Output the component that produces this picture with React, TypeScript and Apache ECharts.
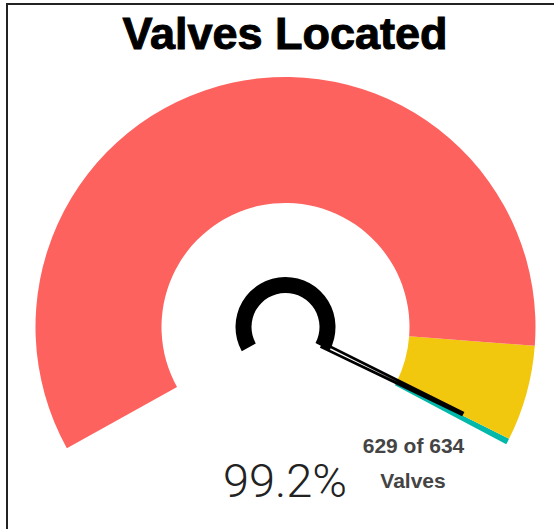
import React, { useEffect, useRef } from "react";
import * as echarts from "echarts";

const titleText = "Valves Located";
const locatedCount = 629;
const totalCount = 634;
const unitLabel = "Valves";
const bandStops = [0.9, 0.994, 1];
const bandColors = ["#FD625E", "#F2C80F", "#01B8AA"];

export default function App() {
  const ref = useRef<HTMLDivElement>(null);
  useEffect(() => {
    document.body.style.margin = "0";
    if (!ref.current) return;
    const chart = echarts.init(ref.current, null, { renderer: "svg" });
    const pct = (locatedCount / totalCount) * 100;
    const cx = 285.5;
    const cy = 327;
    const startAngle = 209;
    const endAngle = -28;
    chart.setOption({
      animation: false,
      backgroundColor: "#fff",
      series: [
        {
          type: "gauge",
          center: [cx, cy],
          radius: 250,
          startAngle,
          endAngle,
          min: 0,
          max: 100,
          axisLine: {
            lineStyle: {
              width: 126,
              color: bandStops.map((s, i) => [s, bandColors[i]]),
            },
          },
          splitLine: { show: false },
          axisTick: { show: false },
          axisLabel: { show: false },
          pointer: {
            show: true,
            icon: "path://M1,0 L6,0 L7,100 L0,100 Z M2.6,97 L4.4,97 L3.5,45 Z",
            length: 158,
            width: 7,
            offsetCenter: [0, -40],
            itemStyle: { color: "#000" },
          },
          anchor: { show: false },
          title: { show: false },
          detail: { show: false },
          data: [{ value: pct }],
          z: 2,
        },
        {
          type: "gauge",
          center: [cx, cy],
          radius: 50,
          startAngle,
          endAngle,
          min: 0,
          max: 100,
          axisLine: { lineStyle: { width: 16, color: [[1, "#000"]] } },
          splitLine: { show: false },
          axisTick: { show: false },
          axisLabel: { show: false },
          pointer: { show: false },
          anchor: { show: false },
          title: { show: false },
          detail: { show: false },
          data: [{ value: 0 }],
          z: 1,
        },
      ],
      graphic: [
        { type: "rect", shape: { x: 6, y: 3, width: 548, height: 2 }, style: { fill: "#222" } },
        { type: "rect", shape: { x: 6, y: 3, width: 2, height: 526 }, style: { fill: "#222" } },
        {
          type: "text",
          x: 285,
          y: 33,
          style: {
            text: titleText,
            font: "bold 45px 'Liberation Sans', Arial, sans-serif",
            fill: "#000",
            stroke: "#000",
            lineWidth: 1,
            align: "center",
            verticalAlign: "middle",
          },
        },
        {
          type: "text",
          x: 285,
          y: 480,
          style: {
            text: pct.toFixed(1) + "%",
            font: "300 47px Roboto, sans-serif",
            fill: "#222",
            align: "center",
            verticalAlign: "middle",
          },
        },
        {
          type: "text",
          x: 413.5,
          y: 445,
          style: {
            text: `${locatedCount} of ${totalCount}`,
            font: "bold 21px 'Liberation Sans', Arial, sans-serif",
            fill: "#444",
            align: "center",
            verticalAlign: "middle",
          },
        },
        {
          type: "text",
          x: 413,
          y: 480,
          style: {
            text: unitLabel,
            font: "bold 21px 'Liberation Sans', Arial, sans-serif",
            fill: "#444",
            align: "center",
            verticalAlign: "middle",
          },
        },
      ],
    });
    return () => chart.dispose();
  }, []);
  return <div ref={ref} style={{ width: 554, height: 529 }} />;
}
